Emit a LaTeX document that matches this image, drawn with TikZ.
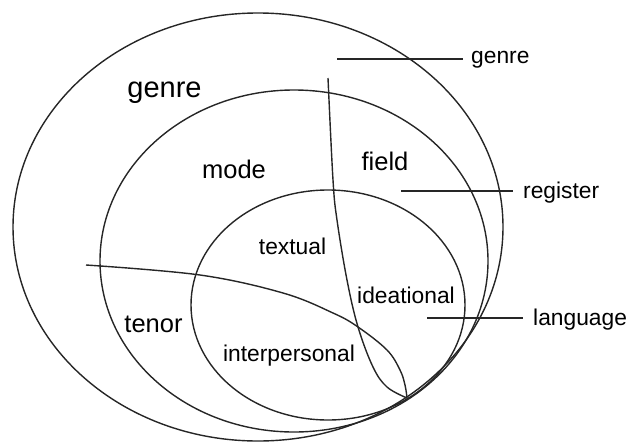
\documentclass[tikz,border=0pt]{standalone}
\usepackage{fontspec}
\setmainfont{Liberation Sans}
\begin{document}
\begin{tikzpicture}[x=1pt,y=-1pt,
  ln/.style={line width=1.4pt, draw=black!85},
  big/.style={font=\fontsize{29}{30}\selectfont, anchor=base, inner sep=0pt},
  mid/.style={font=\fontsize{25.5}{27}\selectfont, anchor=base, inner sep=0pt},
  sml/.style={font=\fontsize{22.8}{24}\selectfont, anchor=base, inner sep=0pt},
  side/.style={font=\fontsize{22.8}{24}\selectfont, anchor=base west, inner sep=0pt}]
\useasboundingbox (0,0) rectangle (629,442);
% ellipses
\draw[ln] (258,227) ellipse [x radius=245, y radius=214];
\draw[ln] (294,261) ellipse [x radius=194, y radius=171];
\draw[ln] (328,305) ellipse [x radius=137, y radius=115];
% dividing curves
\draw[ln] plot[smooth, tension=0.6] coordinates {(328,78) (333,180) (337,220) (347,280) (358,327) (373,367) (387,387) (407,398)};
\draw[ln] plot[smooth, tension=0.6] coordinates {(86,265) (200,275) (283,293) (333,313) (358,327) (387,350) (400,370) (405,385) (407,398)};
% labels
\node[big] (lgenre) at (164.5,97) {genre};
\node[mid] (lmode) at (234,178) {mode};
\node[mid] (lfield) at (385,170) {field};
\node[mid] (ltenor) at (153.5,332) {tenor};
\node[sml] (ltext) at (292.5,254) {textual};
\node[sml] (lidea) at (406,303) {ideational};
\node[sml] (linter) at (289,361) {interpersonal};
% side labels
\node[side] (sgenre) at (471,63) {genre};
\node[side] (sreg) at (523,198) {register};
\node[side] (slang) at (533,325) {language};
\coordinate (cg) at (337,59);
\coordinate (cr) at (401,191);
\coordinate (cl) at (427,318);
\draw[ln, shorten >=8pt] (cg) -- (cg -| sgenre.west);
\draw[ln, shorten >=10pt] (cr) -- (cr -| sreg.west);
\draw[ln, shorten >=10pt] (cl) -- (cl -| slang.west);
\end{tikzpicture}
\end{document}
